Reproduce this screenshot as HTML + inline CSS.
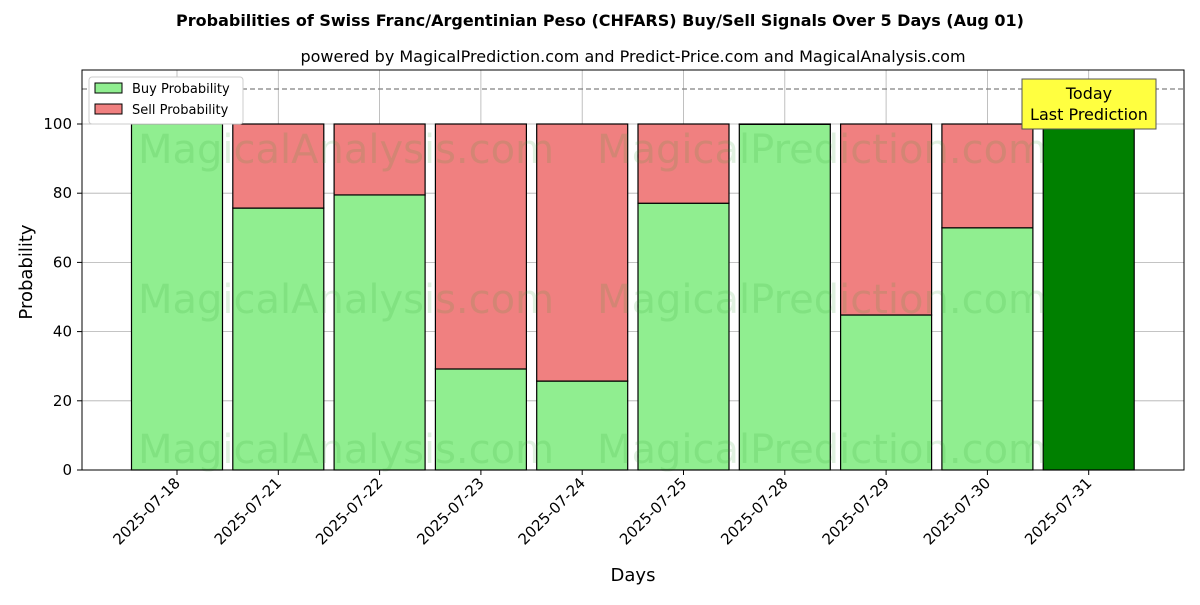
<!DOCTYPE html>
<html><head><meta charset="utf-8"><style>
body{margin:0;background:#fff;}
svg text{font-family:"DejaVu Sans","Liberation Sans",sans-serif;}
</style></head><body>
<svg id="chart" width="1200" height="600" xmlns="http://www.w3.org/2000/svg">
<rect width="1200" height="600" fill="#fff"/>
<text x="600" y="26" text-anchor="middle" font-size="16" font-weight="bold">Probabilities of Swiss Franc/Argentinian Peso (CHFARS) Buy/Sell Signals Over 5 Days (Aug 01)</text>
<text x="633" y="62" text-anchor="middle" font-size="16">powered by MagicalPrediction.com and Predict-Price.com and MagicalAnalysis.com</text>
<g id="grid"></g>
<g id="bars"></g>
<g id="wm" fill="#2ca02c" fill-opacity="0.15" font-size="40">
<text x="346" y="163" text-anchor="middle">MagicalAnalysis.com</text>
<text x="822" y="163" text-anchor="middle">MagicalPrediction.com</text>
<text x="346" y="313" text-anchor="middle">MagicalAnalysis.com</text>
<text x="822" y="313" text-anchor="middle">MagicalPrediction.com</text>
<text x="346" y="463" text-anchor="middle">MagicalAnalysis.com</text>
<text x="822" y="463" text-anchor="middle">MagicalPrediction.com</text>
</g>
<line x1="82" x2="1184" y1="89" y2="89" stroke="#808080" stroke-width="1.3" stroke-dasharray="5,3"/>
<rect x="82" y="70" width="1102" height="400" fill="none" stroke="#000" stroke-width="1"/>
<g id="axes"></g>
<g>
<rect x="89" y="77" width="154" height="47" fill="#fff" stroke="#ccc" rx="3"/>
<rect x="95" y="83" width="27" height="10" fill="#90ee90" stroke="#000"/>
<text x="132" y="93" font-size="13">Buy Probability</text>
<rect x="95" y="104" width="27" height="10" fill="#f08080" stroke="#000"/>
<text x="132" y="114" font-size="13">Sell Probability</text>
</g>
<g>
<rect x="1022" y="79" width="134" height="50" fill="#ffff40" stroke="#555"/>
<text x="1089" y="99" text-anchor="middle" font-size="16">Today</text>
<text x="1089" y="120" text-anchor="middle" font-size="16">Last Prediction</text>
</g>
<text x="633" y="581" text-anchor="middle" font-size="18">Days</text>
<text x="32" y="272" text-anchor="middle" font-size="18" transform="rotate(-90 32 272)">Probability</text>
</svg>
<script>
const categories=["2025-07-18","2025-07-21","2025-07-22","2025-07-23","2025-07-24","2025-07-25","2025-07-28","2025-07-29","2025-07-30","2025-07-31"];
const buyValues=[100,75.7,79.5,29.2,25.7,77.1,99.9,44.8,70.0,100];
const sellValues=[0,24.3,20.5,70.8,74.3,22.9,0.1,55.2,30.0,0];
const yTicks=[0,20,40,60,80,100];
const NS="http://www.w3.org/2000/svg";
const x=i=>177+i*101.3;
const y=v=>470-v*3.46;
const bw=91;
function mk(t,a,p){const e=document.createElementNS(NS,t);for(const k in a)e.setAttribute(k,a[k]);p.appendChild(e);return e;}
const grid=document.getElementById('grid'),bars=document.getElementById('bars'),axes=document.getElementById('axes');
yTicks.forEach(v=>{
const g=mk('line',{x1:82,x2:1184,y1:y(v),y2:y(v),stroke:'#b0b0b0','stroke-width':0.8},grid);


mk('line',{x1:77,x2:82,y1:y(v),y2:y(v),stroke:'#000'},axes);
const t=mk('text',{x:72,y:y(v)+5,'text-anchor':'end','font-size':15},axes);t.textContent=v;


});
categories.forEach((c,i)=>{
const g=mk('line',{x1:x(i),x2:x(i),y1:70,y2:470,stroke:'#b0b0b0','stroke-width':0.8},grid);


const last=i===categories.length-1;
const b=mk('rect',{x:x(i)-bw/2,y:y(buyValues[i]),width:bw,height:y(0)-y(buyValues[i]),fill:last?'#008000':'#90ee90',stroke:'#000','stroke-width':1.2},bars);


if(sellValues[i]>0){
const s=mk('rect',{x:x(i)-bw/2,y:y(buyValues[i]+sellValues[i]),width:bw,height:y(buyValues[i])-y(buyValues[i]+sellValues[i]),fill:'#f08080',stroke:'#000','stroke-width':1.2},bars);


}
mk('line',{x1:x(i),x2:x(i),y1:470,y2:475,stroke:'#000'},axes);
const t=mk('text',{x:x(i)+4,y:484,'text-anchor':'end','font-size':15,transform:`rotate(-45 ${x(i)+4} 484)`},axes);t.textContent=c;


});
</script>
</body></html>
